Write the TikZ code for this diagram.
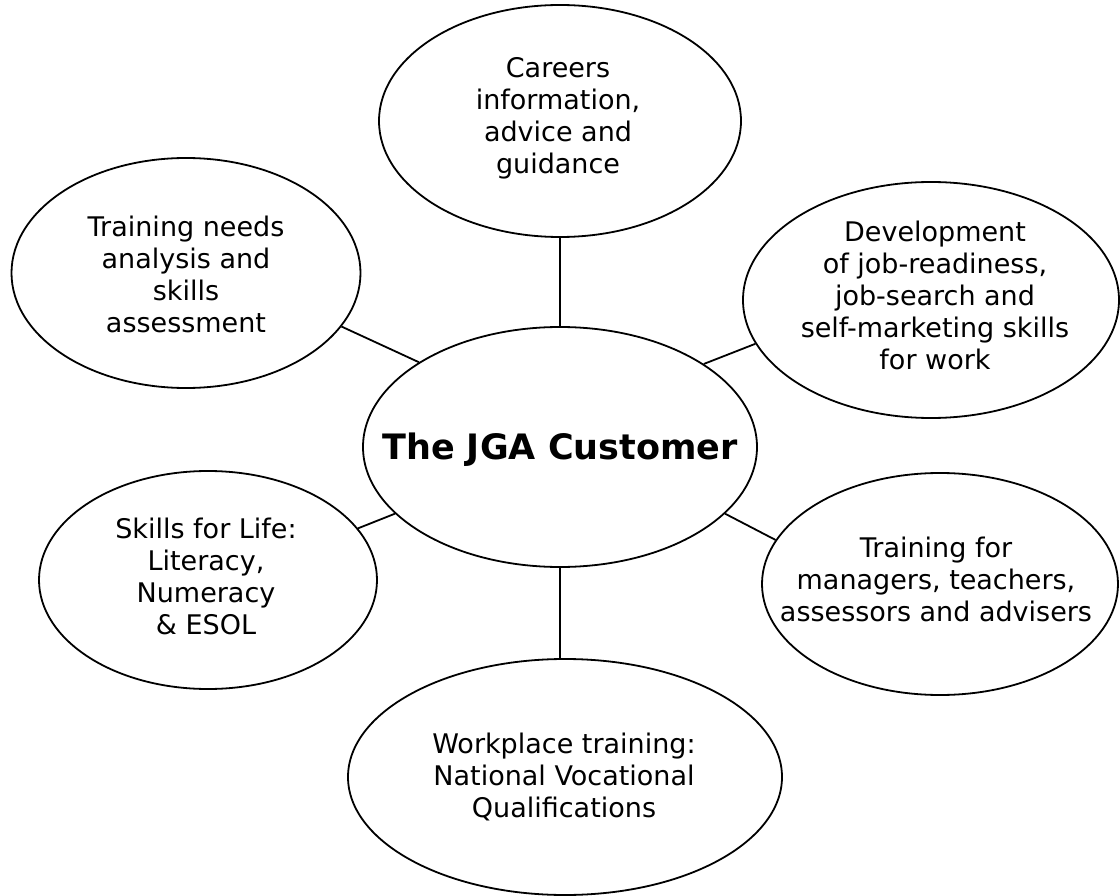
\documentclass[tikz,border=0pt]{standalone}
\usepackage{fontspec}
\setmainfont{DejaVu Sans}
\usetikzlibrary{shapes.geometric}
\begin{document}
\begin{tikzpicture}[x=1pt,y=-1pt,
  bubble/.style={draw=black, line width=1.8pt, ellipse, inner sep=0pt},
  caption/.style={inner sep=0pt, align=center, font=\fontsize{27}{32}\selectfont},
  hubcaption/.style={inner sep=0pt, font=\fontsize{35}{42}\selectfont\bfseries},
  link/.style={draw=black, line width=1.8pt}]
\useasboundingbox (0,0) rectangle (1120,896);

% central customer bubble
\node[bubble, minimum width=394pt, minimum height=240pt] (c) at (560,447) {};
\node[hubcaption] (c-txt) at (560,450) {The JGA Customer};

% surrounding service bubbles
\node[bubble, minimum width=362pt, minimum height=232pt] (t) at (560,121) {};
\node[caption] (t-txt) at (558,118) {Careers\\information,\\advice and\\guidance};

\node[bubble, minimum width=349pt, minimum height=230pt] (tl) at (186,273) {};
\node[caption] (tl-txt) at (186,274) {Training needs\\analysis and\\skills\\assessment};

\node[bubble, minimum width=376pt, minimum height=236pt] (tr) at (931,300) {};
\node[caption] (tr-txt) at (935,295)
  {Development\\of job-readiness,\\job-search and\\self-marketing skills\\for work};

\node[bubble, minimum width=356pt, minimum height=222pt] (br) at (940,584) {};
\node[caption] (br-txt) at (936,579) {Training for\\managers, teachers,\\assessors and advisers};

\node[bubble, minimum width=338pt, minimum height=218pt] (bl) at (208,580) {};
\node[caption] (bl-txt) at (206,576) {Skills for Life:\\Literacy,\\Numeracy\\\& ESOL};

\node[bubble, minimum width=434pt, minimum height=236pt] (b) at (565,777) {};
\node[caption] (b-txt) at (564,777) {Workplace training:\\National Vocational\\Qualifications};

% spokes
\draw[link] (c.north) -- (c.north |- t.south);
\draw[link] (c.149.4) -- (tl.-19.3);
\draw[link] (c.30.4) -- (tr.-166.6);
\draw[link] (c.-22.6) -- (br.165.1);
\draw[link] (c.-158.7) -- (bl.19.6);
\draw[link] (c.south) -- (c.south |- b.north);
\end{tikzpicture}
\end{document}
